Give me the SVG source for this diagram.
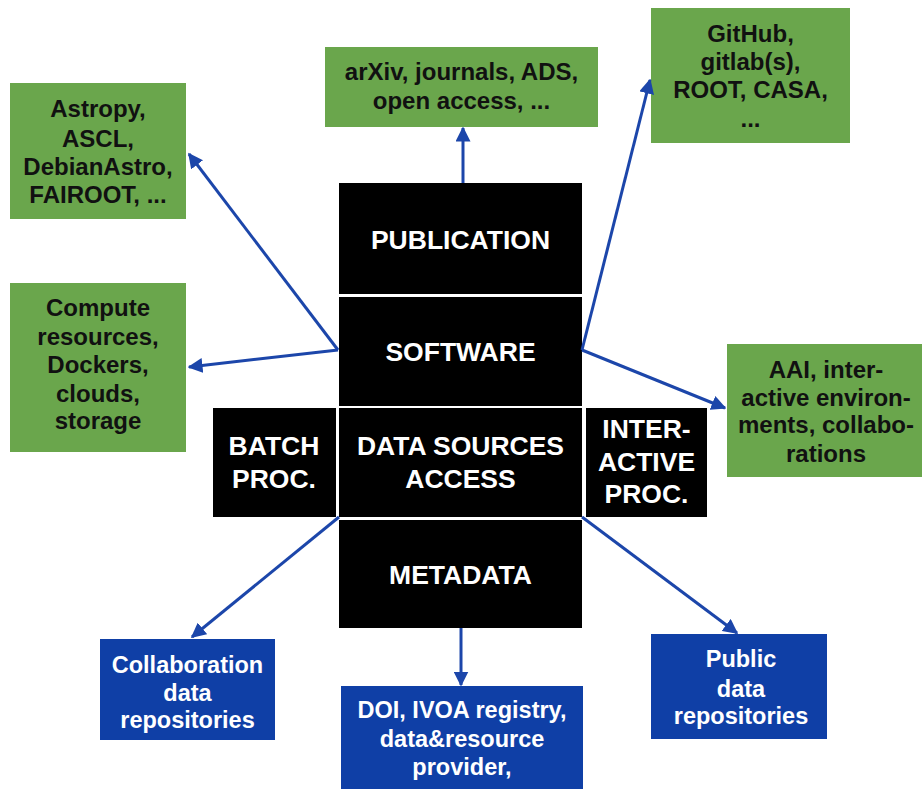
<svg xmlns="http://www.w3.org/2000/svg" width="922" height="789" viewBox="0 0 922 789">
<defs>
<style>
.g{fill:#6aa64c}
.b{fill:#0f3fa6}
.k{fill:#000}
text{font-family:"Liberation Sans",Arial,sans-serif;font-weight:bold;text-anchor:middle}
.gt{fill:#111;font-size:24px}
.bt{fill:#fff;font-size:23.5px}
.kt{fill:#fff;font-size:26.5px}
.c{stroke:#1c46aa;stroke-width:3;fill:none;marker-end:url(#ah)}
</style>
<marker id="ah" viewBox="0 0 10 10" refX="9" refY="5" markerWidth="5" markerHeight="5" orient="auto" markerUnits="strokeWidth">
<path d="M0,0 L10,5 L0,10 z" fill="#1c46aa"/>
</marker>
</defs>
<rect width="922" height="789" fill="#fff"/>

<g id="publication"><rect class="k" x="339" y="183" width="243" height="111"/><text class="kt" x="460.5" y="249">PUBLICATION</text></g>
<g id="software"><rect class="k" x="339" y="297" width="243" height="109"/><text class="kt" x="460.5" y="361">SOFTWARE</text></g>
<g id="datasources"><rect class="k" x="339" y="408" width="243" height="109"/><text class="kt" x="460.5" y="455">DATA SOURCES</text><text class="kt" x="460.5" y="488">ACCESS</text></g>
<g id="metadata"><rect class="k" x="339" y="520" width="243" height="108"/><text class="kt" x="460.5" y="584">METADATA</text></g>
<g id="batch"><rect class="k" x="213" y="408" width="123" height="109"/><text class="kt" x="274" y="455">BATCH</text><text class="kt" x="274" y="488">PROC.</text></g>
<g id="interactive"><rect class="k" x="586" y="408" width="121" height="109"/><text class="kt" x="646.5" y="438">INTER-</text><text class="kt" x="646.5" y="471">ACTIVE</text><text class="kt" x="646.5" y="503">PROC.</text></g>

<g id="astropy"><rect class="g" x="10" y="83" width="176" height="136"/><text class="gt" x="98" y="117">Astropy,</text><text class="gt" x="98" y="147">ASCL,</text><text class="gt" x="98" y="175">DebianAstro,</text><text class="gt" x="98" y="203">FAIROOT, ...</text></g>
<g id="arxiv"><rect class="g" x="325" y="47" width="273" height="80"/><text class="gt" x="461.5" y="80">arXiv, journals, ADS,</text><text class="gt" x="461.5" y="109">open access, ...</text></g>
<g id="github"><rect class="g" x="651" y="8" width="199" height="135"/><text class="gt" x="750.5" y="42">GitHub,</text><text class="gt" x="750.5" y="70">gitlab(s),</text><text class="gt" x="750.5" y="98">ROOT, CASA,</text><text class="gt" x="750.5" y="127">...</text></g>
<g id="compute"><rect class="g" x="10" y="283" width="176" height="169"/><text class="gt" x="98" y="316">Compute</text><text class="gt" x="98" y="345">resources,</text><text class="gt" x="98" y="373">Dockers,</text><text class="gt" x="98" y="402">clouds,</text><text class="gt" x="98" y="429">storage</text></g>
<g id="aai"><rect class="g" x="727" y="344" width="195" height="133"/><text class="gt" x="826" y="378">AAI, inter-</text><text class="gt" x="826" y="406">active environ-</text><text class="gt" x="826" y="433">ments, collabo-</text><text class="gt" x="826" y="462">rations</text></g>

<g id="collab"><rect class="b" x="100" y="639" width="175" height="101"/><text class="bt" x="187.5" y="673">Collaboration</text><text class="bt" x="187.5" y="701">data</text><text class="bt" x="187.5" y="728">repositories</text></g>
<g id="doi"><rect class="b" x="341" y="686" width="242" height="110"/><text class="bt" x="462" y="718">DOI, IVOA registry,</text><text class="bt" x="462" y="747">data&amp;resource</text><text class="bt" x="462" y="775">provider,</text></g>
<g id="public"><rect class="b" x="651" y="634" width="176" height="105"/><text class="bt" x="741" y="667">Public</text><text class="bt" x="741" y="697">data</text><text class="bt" x="741" y="724">repositories</text></g>

<g id="connectors">
<line class="c" x1="463" y1="183" x2="463" y2="128"/>
<line class="c" x1="338" y1="350" x2="189" y2="154"/>
<line class="c" x1="338" y1="350" x2="189" y2="367"/>
<line class="c" x1="582" y1="350" x2="650" y2="80"/>
<line class="c" x1="582" y1="350" x2="725" y2="408"/>
<line class="c" x1="339" y1="517" x2="192" y2="637"/>
<line class="c" x1="582" y1="517" x2="737" y2="633"/>
<line class="c" x1="461" y1="628" x2="461" y2="685"/>
</g>
</svg>
